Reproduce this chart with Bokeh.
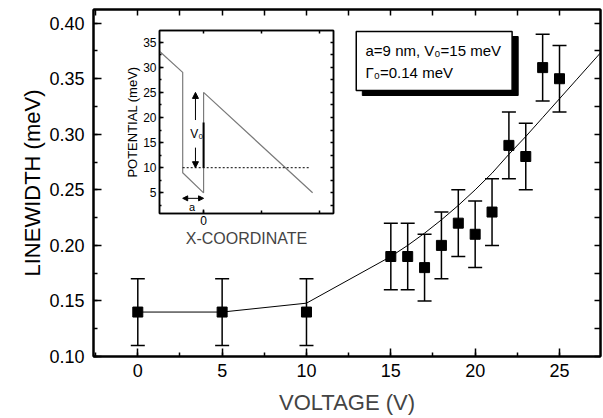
from bokeh.plotting import figure
from bokeh.models import (FixedTicker, PrintfTickFormatter, LinearAxis, Whisker, TeeHead,
                          ColumnDataSource, Label, Arrow, NormalHead, Range1d, Title)
from bokeh.embed import file_html
from bokeh.resources import INLINE

FONT = "Liberation Sans"

# ---------------- data (main panel) ----------------
voltage = [0, 5, 10, 15, 16, 17, 18, 19, 20, 21, 22, 23, 24, 25]
linewidth = [0.14, 0.14, 0.14, 0.19, 0.19, 0.18, 0.20, 0.22, 0.21, 0.23, 0.29, 0.28, 0.36, 0.35]
linewidth_err = [0.03, 0.03, 0.03, 0.03, 0.03, 0.03, 0.03, 0.03, 0.03, 0.03, 0.03, 0.03, 0.03, 0.03]
fit_voltage = [0, 5, 10, 15, 16, 17, 18, 19, 20, 21, 22, 23, 24, 25, 26, 27, 28]
fit_linewidth = [0.140, 0.140, 0.148, 0.190, 0.200, 0.211, 0.223, 0.236, 0.250, 0.265,
                 0.282, 0.298, 0.315, 0.332, 0.349, 0.366, 0.383]
x_ticks = [0, 5, 10, 15, 20, 25]
x_minor = [-2.5, 0, 2.5, 5, 7.5, 10, 12.5, 15, 17.5, 20, 22.5, 25, 27.5]
y_ticks = [0.10, 0.15, 0.20, 0.25, 0.30, 0.35, 0.40]
y_minor = [0.10, 0.125, 0.15, 0.175, 0.20, 0.225, 0.25, 0.275, 0.30, 0.325, 0.35, 0.375, 0.40]
legend_line1 = "a=9 nm, V\u2080=15 meV"
legend_line2 = "\u0393\u2080=0.14 meV"

# ---------------- data (inset) ----------------
profile_x = [-19, -9, -9, 0, 0, 47]
profile_v = [33.2, 29, 9, 5, 25, 5]
level_x = [-9, 46]
level_v = [10, 10]
inset_x_ticks = [0]
inset_x_minor = [0, 25, 50]
inset_y_ticks = [5, 10, 15, 20, 25, 30, 35]
inset_y_minor = [2.5, 5, 7.5, 10, 12.5, 15, 17.5, 20, 22.5, 25, 27.5, 30, 32.5, 35, 37.5]

W, H = 603, 418


def style_axis(ax, size=None, tin=8, tmin=4, lw=2):
    ax.axis_line_width = lw
    ax.axis_line_color = "black"
    ax.major_tick_in = tin
    ax.major_tick_out = 0
    ax.minor_tick_in = tmin
    ax.minor_tick_out = 0
    ax.major_tick_line_width = 1.5
    ax.minor_tick_line_width = 1.5
    ax.major_label_text_font = FONT
    ax.major_label_text_color = "black"
    if size:
        ax.major_label_text_font_size = size


# ---------------- main figure ----------------
p = figure(width=W, height=H, x_range=Range1d(-2.626, 27.43), y_range=Range1d(0.10, 0.4123),
           output_backend="svg", toolbar_location=None,
           min_border_left=93, min_border_right=3, min_border_top=9, min_border_bottom=62)
p.xgrid.visible = False
p.ygrid.visible = False
p.outline_line_color = "black"
p.outline_line_width = 2
p.background_fill_color = "white"

p.xaxis.ticker = FixedTicker(ticks=x_ticks, minor_ticks=x_minor)
p.yaxis.ticker = FixedTicker(ticks=y_ticks, minor_ticks=y_minor)
p.yaxis.formatter = PrintfTickFormatter(format="%.2f")
for ax in p.xaxis:
    style_axis(ax, "18px")
    ax.major_label_standoff = 7
    ax.axis_label = "VOLTAGE (V)"
    ax.axis_label_text_font = FONT
    ax.axis_label_text_font_size = "22px"
    ax.axis_label_text_font_style = "normal"
    ax.axis_label_standoff = 10
for ax in p.yaxis:
    style_axis(ax, "18px")
    ax.major_label_standoff = 9

# y-axis title, shifted below the frame centre as in the reference
p.add_layout(Title(text="LINEWIDTH (meV)", align="center", offset=-30, standoff=4,
                   text_font=FONT, text_font_size="22px", text_font_style="normal",
                   text_color="black"), "left")

# mirror ticks (no labels)
top_ax = LinearAxis(ticker=FixedTicker(ticks=[], minor_ticks=x_minor))
style_axis(top_ax, tmin=6)
p.add_layout(top_ax, "above")
right_ax = LinearAxis(ticker=FixedTicker(ticks=[], minor_ticks=y_minor))
style_axis(right_ax, tmin=6)
p.add_layout(right_ax, "right")

src = ColumnDataSource(dict(
    v=voltage, w=linewidth,
    upper=[w + e for w, e in zip(linewidth, linewidth_err)],
    lower=[w - e for w, e in zip(linewidth, linewidth_err)]))
p.add_layout(Whisker(source=src, base="v", upper="upper", lower="lower",
                     line_color="black", line_width=1.5,
                     upper_head=TeeHead(size=14, line_width=1.5, line_color="black"),
                     lower_head=TeeHead(size=14, line_width=1.5, line_color="black")))
p.line(fit_voltage, fit_linewidth, line_color="black", line_width=1)
p.scatter("v", "w", source=src, marker="square", size=10, fill_color="black", line_color="black")

# legend box with shadow
p.quad(left=[13.31], right=[22.55], top=[0.388], bottom=[0.3349],
       fill_color="black", line_color="black")
p.quad(left=[12.95], right=[22.19], top=[0.3925], bottom=[0.3394],
       fill_color="white", line_color="black", line_width=1.5)
p.add_layout(Label(x=13.5, y=0.3754, text=legend_line1, text_baseline="middle",
                   text_font=FONT, text_font_size="15px", text_color="black"))
p.add_layout(Label(x=13.5, y=0.3559, text=legend_line2, text_baseline="middle",
                   text_font=FONT, text_font_size="15px", text_color="black"))

# ---------------- inset ----------------
ins = figure(width=W, height=H, x_range=Range1d(-19, 56), y_range=Range1d(0.88, 37.33),
             output_backend="svg", toolbar_location=None,
             min_border_left=159, min_border_right=270, min_border_top=30, min_border_bottom=205)
ins.xgrid.visible = False
ins.ygrid.visible = False
ins.border_fill_alpha = 0
ins.background_fill_color = "white"
ins.outline_line_color = "black"
ins.outline_line_width = 1.5

ins.xaxis.ticker = FixedTicker(ticks=inset_x_ticks, minor_ticks=inset_x_minor)
ins.yaxis.ticker = FixedTicker(ticks=inset_y_ticks, minor_ticks=inset_y_minor)
for ax in ins.xaxis:
    style_axis(ax, "12px", tin=4, tmin=3, lw=1.5)
    ax.major_label_standoff = 2
    ax.axis_label = "X-COORDINATE"
    ax.axis_label_text_font = FONT
    ax.axis_label_text_font_size = "16px"
    ax.axis_label_text_font_style = "normal"
    ax.axis_label_standoff = 2
for ax in ins.yaxis:
    style_axis(ax, "12px", tin=4, tmin=2, lw=1.5)
    ax.major_label_standoff = 3
ins.add_layout(Title(text="POTENTIAL (meV)", align="center", offset=-16, standoff=1,
                     text_font=FONT, text_font_size="13px", text_font_style="normal",
                     text_color="black"), "left")
itop = LinearAxis(ticker=FixedTicker(ticks=[], minor_ticks=inset_x_minor))
style_axis(itop, tin=4, tmin=3, lw=1.5)
ins.add_layout(itop, "above")
iright = LinearAxis(ticker=FixedTicker(ticks=[], minor_ticks=inset_y_minor))
style_axis(iright, tin=4, tmin=3, lw=1.5)
ins.add_layout(iright, "right")

ins.line(profile_x, profile_v, line_color="#7a7a7a", line_width=1.2)
ins.line(level_x, level_v, line_color="black", line_width=1, line_dash="2 2")
ins.line([0, 0], [10, 19], line_color="black", line_width=2)

ins.add_layout(Arrow(x_start=-3.5, y_start=19.5, x_end=-3.5, y_end=25,
                     line_width=1, line_color="black",
                     end=NormalHead(size=6, fill_color="black", line_color="black")))
ins.add_layout(Arrow(x_start=-3.5, y_start=14, x_end=-3.5, y_end=10,
                     line_width=1, line_color="black",
                     end=NormalHead(size=6, fill_color="black", line_color="black")))
ins.add_layout(Label(x=-3.0, y=16.8, text="V\u2080", text_align="center", text_baseline="middle",
                     text_font=FONT, text_font_size="12px", text_color="black"))
ins.add_layout(Arrow(x_start=-9, y_start=3.9, x_end=0, y_end=3.9,
                     line_width=1, line_color="black",
                     start=NormalHead(size=5, fill_color="black", line_color="black"),
                     end=NormalHead(size=5, fill_color="black", line_color="black")))
ins.add_layout(Label(x=-5, y=2.1, text="a", text_align="center", text_baseline="middle",
                     text_font=FONT, text_font_size="11px", text_color="black"))

# overlay the inset on the main panel (separate roots, so frames are not aligned)
ins.margin = (-H, 0, 0, 0)
open("out.html", "w").write(file_html([p, ins], INLINE))
